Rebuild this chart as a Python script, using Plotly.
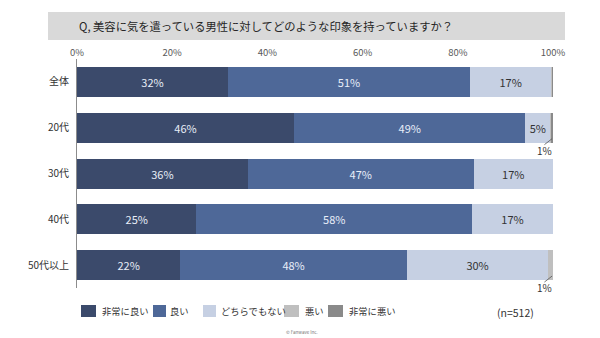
import plotly.graph_objects as go

categories = ["全体", "20代", "30代", "40代", "50代以上"]
series_names = ["非常に良い", "良い", "どちらでもない", "悪い", "非常に悪い"]
very_good = [31.7, 45.6, 35.9, 25.1, 21.7]
good = [50.9, 48.6, 47.4, 57.9, 47.6]
neutral = [17.0, 5.2, 16.7, 17.0, 29.7]
bad = [0.2, 0.2, 0.0, 0.0, 1.0]
very_bad = [0.2, 0.4, 0.0, 0.0, 0.0]
tick_vals = [0, 20, 40, 60, 80, 100]
tick_text = ["0%", "20%", "40%", "60%", "80%", "100%"]
title_text = "Q, 美容に気を遣っている男性に対してどのような印象を持っていますか？"
n_text = "(n=512)"
credit_text = "© Fanwave Inc."

series = [very_good, good, neutral, bad, very_bad]
colors = ["#3b4a6b", "#4e6898", "#c6d0e3", "#bfbfbf", "#8a8a8a"]
text_colors = ["#e8eef8", "#e8eef8", "#333333", "#333333", "#333333"]
FONT = "Noto Sans CJK JP"

# plot area in pixels
PX0, PX1, PY0, PY1 = 77, 553, 59, 288
W, H = 600, 338


def px(x):
    return (x - PX0) / (PX1 - PX0)


def py(y):
    return (PY1 - y) / (PY1 - PY0)


fig = go.Figure()
for name, vals, col, tcol in zip(series_names, series, colors, text_colors):
    texts = [f"{round(v)}%" if v >= 3 else "" for v in vals]
    fig.add_trace(go.Bar(
        y=categories, x=vals, name=name, orientation="h",
        marker=dict(color=col, line=dict(width=0)),
        text=texts, textposition="inside", insidetextanchor="middle",
        textangle=0, constraintext="none",
        textfont=dict(color=tcol, size=11, family=FONT),
        showlegend=False,
    ))

fig.update_layout(
    barmode="stack", bargap=0.345,
    width=W, height=H,
    margin=dict(l=PX0, r=W - PX1, t=PY0, b=H - PY1),
    paper_bgcolor="white", plot_bgcolor="white",
    font=dict(family=FONT, color="#333333"),
    xaxis=dict(side="top", range=[0, 100], tickvals=tick_vals, ticktext=tick_text,
               showgrid=False, zeroline=False, showline=False, ticks="",
               tickfont=dict(size=9.5, color="#595959"), fixedrange=True),
    yaxis=dict(showgrid=False, zeroline=False, showline=True,
               linecolor="#8c8c8c", linewidth=1, ticks="", ticklabelstandoff=5,
               tickfont=dict(size=10, color="#333333"),
               autorange=False, range=[4.5, -0.5]),
)

shapes = []
annotations = []


def ann(x, y, text, size, color="#333333", xanchor="center"):
    annotations.append(dict(xref="paper", yref="paper", x=px(x), y=py(y),
                            xanchor=xanchor, yanchor="middle",
                            text=text, showarrow=False,
                            font=dict(size=size, color=color, family=FONT)))


# title box
shapes.append(dict(type="rect", xref="paper", yref="paper",
                   x0=px(48), x1=px(565), y0=py(40), y1=py(12),
                   fillcolor="#d9d9d9", line=dict(width=0), layer="below"))
ann(266, 26, title_text, 11.3, "#262626")

# small-value callouts
for i, cat in enumerate(categories):
    small = bad[i] + very_bad[i]
    if round(small) >= 1:
        total = very_good[i] + good[i] + neutral[i] + small
        shapes.append(dict(type="line", xref="x", yref="y",
                           x0=total - 0.2, x1=total - 1.8,
                           y0=i + 0.24, y1=i + 0.37,
                           line=dict(color="#555555", width=0.8)))
        annotations.append(dict(xref="x", yref="y", x=total - 1.8, y=i + 0.49,
                                xanchor="center", yanchor="middle",
                                text=f"{round(small)}%", showarrow=False,
                                font=dict(size=10, color="#333333", family=FONT)))

# legend
sq_x = [81, 153, 203, 284, 328]
sq_w = [15, 13, 13, 15, 15]
txt_x = [100, 168, 219, 303, 347]
for name, col, sx, sw, tx in zip(series_names, colors, sq_x, sq_w, txt_x):
    shapes.append(dict(type="rect", xref="paper", yref="paper",
                       x0=px(sx), x1=px(sx + sw), y0=py(317), y1=py(305),
                       fillcolor=col, line=dict(width=0)))
    ann(tx, 311, name, 9.3, xanchor="left")

ann(515, 312, n_text, 10.5)
ann(302, 332, credit_text, 4.5, "#777777")

fig.update_layout(shapes=shapes, annotations=annotations)
fig.write_html("out.html")
